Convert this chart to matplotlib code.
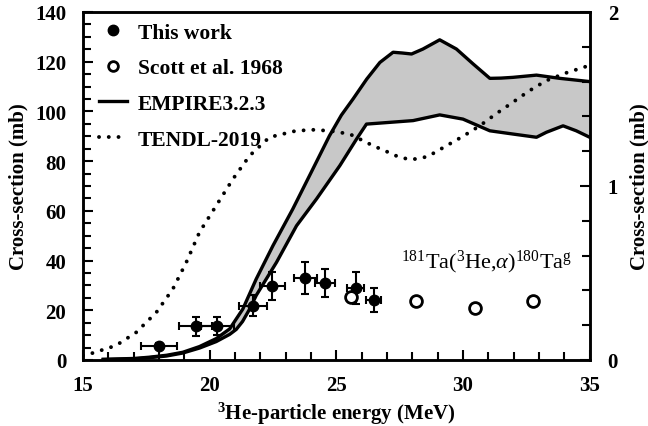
import matplotlib
matplotlib.use("Agg")
import matplotlib.pyplot as plt
from matplotlib.lines import Line2D
from matplotlib.ticker import MultipleLocator

plt.rcParams['font.family'] = ['Liberation Serif', 'DejaVu Serif']
plt.rcParams['mathtext.fontset'] = 'custom'
plt.rcParams['mathtext.rm'] = 'Liberation Serif'
plt.rcParams['mathtext.it'] = 'Liberation Serif:italic'
plt.rcParams['mathtext.bf'] = 'Liberation Serif:bold'

# this work (left axis, mb)
exp_e = [18.0, 19.45, 20.3, 21.7, 22.48, 23.78, 24.55, 25.76, 26.48]
exp_de = [0.7, 0.65, 0.65, 0.55, 0.5, 0.45, 0.4, 0.35, 0.3]
exp_xs = [5.8, 13.6, 13.6, 21.8, 29.9, 33.0, 31.0, 29.1, 24.3]
exp_dxs = [1.0, 3.8, 3.5, 4.2, 5.6, 6.3, 5.6, 6.4, 4.8]

# Scott et al. 1968 (right axis, mb)
scott_e = [25.56, 28.16, 30.46, 32.76]
scott_xs = [0.364, 0.341, 0.299, 0.339]

# EMPIRE3.2.3 band
emp_up_e = [15.8, 17.0, 17.6, 18.3, 18.94, 19.6, 20.26, 20.79, 21.31, 21.84, 22.5,
            23.28, 23.94, 24.73, 25.2, 25.66, 26.2, 26.72, 27.24, 27.6, 27.97,
            28.42, 29.08, 29.74, 30.4, 31.06, 31.5, 31.97, 32.9, 33.82, 35.0]
emp_up_xs = [0.3, 0.6, 1.1, 1.9, 3.1, 5.4, 8.6, 12.5, 20.5, 32.6, 46.0,
             60.7, 74.1, 90.2, 98.5, 105.0, 113.0, 119.7, 123.8, 123.5, 123.1,
             125.1, 128.8, 125.1, 119.1, 113.3, 113.4, 113.7, 114.6, 113.3, 112.0]
emp_lo_e = [15.8, 17.0, 17.6, 18.3, 18.94, 19.6, 20.26, 20.79, 21.05, 21.3, 21.58,
            21.84, 22.64, 23.43, 24.22, 25.14, 25.8, 26.19, 26.72, 28.03, 29.08,
            30.0, 31.06, 31.97, 32.9, 33.29, 33.95, 34.47, 35.0]
emp_lo_xs = [0.1, 0.4, 0.9, 1.6, 2.8, 4.8, 7.4, 10.3, 12.3, 15.5, 20.5,
             26.0, 39.3, 54.0, 64.8, 78.2, 88.9, 94.9, 95.3, 96.3, 98.6,
             96.9, 92.2, 90.9, 89.6, 91.6, 94.2, 92.2, 89.6]

# TENDL-2019
tendl_e = [15.0, 15.26, 16.3, 17.1, 17.9, 18.55, 19.08, 19.6, 20.26, 20.92, 21.58,
           22.36, 23.41, 24.08, 24.73, 25.53, 26.45, 27.0, 27.5, 27.97, 28.6,
           29.35, 30.0, 30.66, 31.3, 31.97, 32.6, 33.29, 34.1, 34.87, 35.0]
tendl_xs = [1.8, 2.4, 5.8, 11.1, 19.2, 28.6, 39.3, 51.4, 62.1, 72.8, 82.2,
            89.6, 92.2, 92.6, 92.2, 90.9, 86.2, 83.8, 81.5, 80.6, 81.8,
            86.2, 90.0, 94.2, 99.0, 103.7, 108.2, 112.4, 115.6, 118.1, 118.4]

fig = plt.figure(figsize=(6.48, 4.27), dpi=100)
ax = fig.add_axes([0.128, 0.1546, 0.782, 0.815])

band_x = emp_up_e + emp_lo_e[::-1]
band_y = emp_up_xs + emp_lo_xs[::-1]
ax.fill(band_x, band_y, color='#c8c8c8', lw=0, zorder=1)
ax.plot(emp_up_e, emp_up_xs, color='black', lw=2.4, zorder=2)
ax.plot(emp_lo_e, emp_lo_xs, color='black', lw=2.4, zorder=2)
ax.plot(tendl_e, tendl_xs, color='black', lw=2.8, ls=(0, (0.01, 2.5)),
        dash_capstyle='round', zorder=3)
ax.errorbar(exp_e, exp_xs, xerr=exp_de, yerr=exp_dxs, fmt='o', color='black',
            ms=7.5, elinewidth=1.5, capsize=3, capthick=1.5, zorder=5)

ax.set_xlim(15, 35)
ax.set_ylim(0, 140)
ax.xaxis.set_major_locator(MultipleLocator(5))
ax.xaxis.set_minor_locator(MultipleLocator(1))
ax.yaxis.set_major_locator(MultipleLocator(20))
ax.yaxis.set_minor_locator(MultipleLocator(5))
ax.tick_params(which='both', direction='in', width=1.5, top=False, right=False,
               labelsize=15)
ax.tick_params(which='major', length=7)
ax.tick_params(which='minor', length=6)
ax.tick_params(axis='y', pad=12)
ax.tick_params(axis='x', pad=11)
for lab in ax.get_xticklabels() + ax.get_yticklabels():
    lab.set_fontweight('bold')
for sp in ax.spines.values():
    sp.set_linewidth(1.8)

ax.set_xlabel(r'$^{\mathbf{3}}$He-particle energy (MeV)', fontsize=15,
              fontweight='bold', labelpad=3)
ax.set_ylabel('Cross-section (mb)', fontsize=15, fontweight='bold', labelpad=5)

ax2 = ax.twinx()
ax2.plot(scott_e, scott_xs, 'o', mfc='white', mec='black', mew=2, ms=8.5, zorder=4)
ax2.set_ylim(0, 2)
ax2.yaxis.set_major_locator(MultipleLocator(1))
ax2.yaxis.set_minor_locator(MultipleLocator(0.2))
ax2.tick_params(which='both', direction='in', width=1.5, labelsize=15, pad=13)
ax2.tick_params(which='major', length=7)
ax2.tick_params(which='minor', length=6)
for lab in ax2.get_yticklabels():
    lab.set_fontweight('bold')
ax2.set_ylabel('Cross-section (mb)', fontsize=15, fontweight='bold', labelpad=8)
for sp in ax2.spines.values():
    sp.set_linewidth(1.8)

ax.text(0.797, 0.282, r'$^{181}$Ta($^{3}$He,$\alpha$)$^{180}$Ta$^{\rm g}$',
        transform=ax.transAxes, fontsize=16, ha='center', va='center')

handles = [
    Line2D([], [], ls='none', marker='o', color='black', ms=7.5),
    Line2D([], [], ls='none', marker='o', mfc='white', mec='black', mew=2, ms=7),
    Line2D([], [], color='black', lw=2.4),
    Line2D([], [], color='black', lw=2.8, ls=(0, (0.01, 2.5)), dash_capstyle='round'),
]
labels = ['This work', 'Scott et al. 1968', 'EMPIRE3.2.3', 'TENDL-2019']
ax.legend(handles, labels, loc='upper left', frameon=False,
          prop={'weight': 'bold', 'size': 15.5}, handlelength=1.3,
          handletextpad=0.5, labelspacing=0.72, borderaxespad=0.1,
          bbox_to_anchor=(0.01, 1.0))

fig.savefig('out.png', dpi=100)
